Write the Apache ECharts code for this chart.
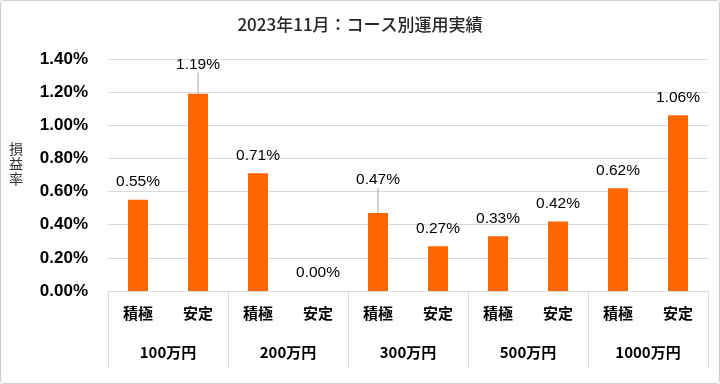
<!DOCTYPE html>
<html><head><meta charset="utf-8">
<script src="https://cdn.jsdelivr.net/npm/echarts@6/dist/echarts.min.js"></script>
<style>html,body{margin:0;padding:0;background:#fff}#c{width:720px;height:384px}</style>
</head><body><div id="c"></div>
<script>
var title = '2023年11月：コース別運用実績';
var categories = ['積極','安定','積極','安定','積極','安定','積極','安定','積極','安定'];
var groups = ['100万円','200万円','300万円','500万円','1000万円'];
var values = [0.55, 1.19, 0.71, 0.00, 0.47, 0.27, 0.33, 0.42, 0.62, 1.06];
var yTicks = [0, 0.2, 0.4, 0.6, 0.8, 1.0, 1.2, 1.4];
var yName = '損益率';
var leaderIdx = [1, 4];

var chart = echarts.init(document.getElementById('c'));
var font = '"Noto Sans CJK JP", "Liberation Sans", sans-serif';
var numFont = '"Liberation Sans", Arial, sans-serif';
var barData = values.map(function (v, i) {
  return leaderIdx.indexOf(i) >= 0 ? {value: v, labelLine: {show: true}} : {value: v};
});
var graphics = [
  {type: 'rect', shape: {x: 0.5, y: 0.5, width: 719, height: 383, r: 3}, style: {fill: 'none', stroke: '#d0d0d0', lineWidth: 1}, silent: true}
];
yName.split('').forEach(function (ch, i) {
  graphics.push({type: 'text', x: 9, y: 142 + i * 15, silent: true,
    style: {text: ch, fill: '#333', font: 'normal 14px ' + font}});
});
chart.setOption({
  animation: false,
  textStyle: {fontFamily: font},
  title: {text: title, left: 'center', top: 11, textStyle: {fontSize: 17, fontWeight: 500, color: '#262626', fontFamily: font}},
  graphic: graphics,
  grid: {left: 108, right: 12, top: 59, bottom: 93},
  xAxis: [
    {type: 'category', data: categories, position: 'bottom',
     axisLine: {show: true, lineStyle: {color: '#d9d9d9'}}, axisTick: {show: false},
     axisLabel: {margin: 15, fontSize: 15, fontWeight: 'bold', color: '#000', fontFamily: font}},
    {type: 'category', data: groups, position: 'bottom',
     axisLine: {show: false}, axisTick: {show: true, length: 78, interval: 0, lineStyle: {color: '#d9d9d9'}},
     axisLabel: {margin: 54, fontSize: 15, fontWeight: 'bold', color: '#000', fontFamily: font}}
  ],
  yAxis: {type: 'value', min: 0, max: 1.4, interval: 0.2,
    axisLine: {show: false}, axisTick: {show: false},
    splitLine: {lineStyle: {color: '#d9d9d9'}},
    axisLabel: {margin: 20, fontSize: 17, fontWeight: 'bold', color: '#000', fontFamily: numFont,
      formatter: function (v) { return v.toFixed(2) + '%'; }}},
  series: [{
    type: 'bar', xAxisIndex: 0, data: barData, barWidth: 20,
    itemStyle: {color: '#FF6600'},
    label: {show: true, position: 'top', distance: 10, fontSize: 15.5, color: '#000', fontFamily: numFont,
      formatter: function (p) { return p.value.toFixed(2) + '%'; }},
    labelLine: {show: false, lineStyle: {color: '#a6a6a6', width: 1}},
    labelLayout: function (p) {
      if (p.dataIndex === 1) return {dy: -11};
      if (p.dataIndex === 4) return {dy: -15};
      return {};
    }
  }]
});
</script></body></html>
